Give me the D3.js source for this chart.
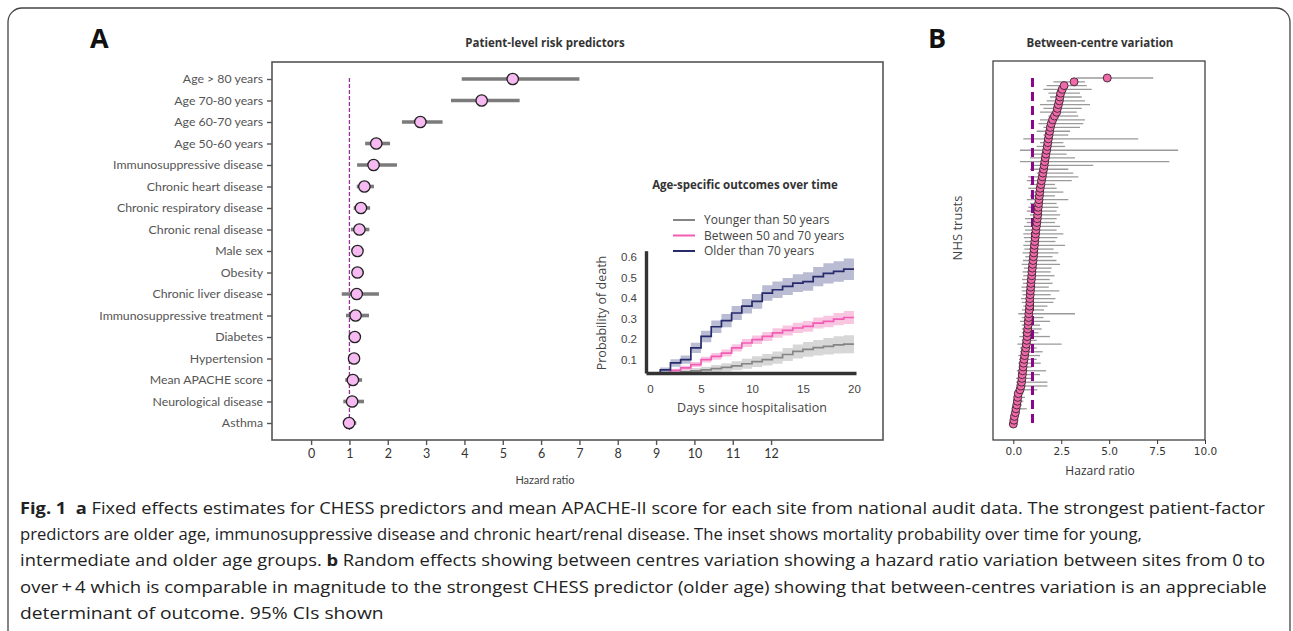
<!DOCTYPE html>
<html>
<head>
<meta charset="utf-8">
<script src="https://cdn.jsdelivr.net/npm/d3@7"></script>
<style>
body { margin: 0; background: #fff; }
svg { display: block; font-family: "Open Sans", sans-serif; }
.cap { white-space: pre; }
</style>
</head>
<body>
<svg id="fig" width="1293" height="631"></svg>
<script>

/*
    DATA
*/

// panel A - fixed effects (hazard ratio, 95% CI)
var predictors = ["Age > 80 years", "Age 70-80 years", "Age 60-70 years", "Age 50-60 years",
    "Immunosuppressive disease", "Chronic heart disease", "Chronic respiratory disease",
    "Chronic renal disease", "Male sex", "Obesity", "Chronic liver disease",
    "Immunosuppressive treatment", "Diabetes", "Hypertension", "Mean APACHE score",
    "Neurological disease", "Asthma"];
var predHR = [5.26, 4.45, 2.85, 1.70, 1.63, 1.39, 1.30, 1.26, 1.21, 1.21, 1.19, 1.16, 1.14, 1.12, 1.09, 1.07, 0.99];
var predLo = [3.93, 3.65, 2.37, 1.41, 1.20, 1.19, 1.11, 1.04, 1.12, 1.11, 0.80, 0.91, 1.05, 1.05, 0.89, 0.84, 0.87];
var predHi = [7.00, 5.44, 3.43, 2.06, 2.24, 1.64, 1.54, 1.52, 1.30, 1.38, 1.77, 1.51, 1.22, 1.18, 1.33, 1.38, 1.18];
var hrTicks = [0, 1, 2, 3, 4, 5, 6, 7, 8, 9, 10, 11, 12];

// inset - probability of death by day since hospitalisation
var days = [0, 1, 2, 3, 4, 5, 6, 7, 8, 9, 10, 11, 12, 13, 14, 15, 16, 17, 18, 19, 20];
var youngP  = [0, .020, .035, .040, .045, .050, .056, .062, .070, .080, .090, .100, .110, .125, .140, .150, .158, .165, .172, .175, .175];
var youngLo = [0, .012, .025, .028, .031, .034, .038, .042, .048, .056, .064, .072, .080, .093, .106, .114, .120, .125, .130, .131, .131];
var youngHi = [0, .028, .045, .052, .059, .066, .074, .082, .092, .104, .116, .128, .140, .157, .174, .186, .196, .205, .214, .219, .219];
var midP  = [0, .036, .048, .060, .076, .100, .116, .132, .157, .181, .197, .213, .230, .242, .254, .262, .278, .286, .297, .305, .305];
var midLo = [0, .030, .040, .050, .064, .086, .100, .115, .139, .161, .176, .191, .207, .218, .229, .236, .251, .258, .267, .273, .273];
var midHi = [0, .042, .056, .070, .088, .114, .132, .149, .175, .201, .218, .235, .253, .266, .279, .288, .305, .314, .327, .337, .337];
var oldP  = [0, .050, .084, .100, .157, .213, .260, .290, .327, .360, .383, .424, .440, .456, .472, .480, .504, .520, .529, .540, .540];
var oldLo = [0, .038, .066, .080, .132, .185, .230, .258, .293, .325, .347, .386, .400, .415, .429, .435, .457, .471, .479, .488, .488];
var oldHi = [0, .062, .102, .120, .182, .241, .290, .322, .361, .395, .419, .462, .480, .497, .515, .525, .551, .569, .579, .592, .592];
var ageGroups = ["Younger than 50 years", "Between 50 and 70 years", "Older than 70 years"];
var probTicks = [0.1, 0.2, 0.3, 0.4, 0.5, 0.6];
var dayTicks = [0, 5, 10, 15, 20];

// panel B - random effects per NHS trust (top to bottom)
var trustHR = [4.90, 3.17, 2.65, 2.55, 2.47, 2.43, 2.40, 2.35, 2.30, 2.26,
    2.15, 2.05, 1.98, 1.93, 1.90, 1.86, 1.83, 1.80, 1.77, 1.74,
    1.70, 1.67, 1.64, 1.61, 1.58, 1.54, 1.51, 1.47, 1.44, 1.40,
    1.38, 1.36, 1.34, 1.32, 1.30, 1.28, 1.27, 1.25, 1.23, 1.20,
    1.18, 1.16, 1.14, 1.12, 1.10, 1.08, 1.07, 1.05, 1.03, 1.01,
    0.99, 0.97, 0.96, 0.94, 0.92, 0.91, 0.89, 0.88, 0.86, 0.86,
    0.85, 0.83, 0.81, 0.80, 0.78, 0.77, 0.75, 0.73, 0.72, 0.70,
    0.68, 0.65, 0.62, 0.59, 0.56, 0.53, 0.51, 0.49, 0.47, 0.45,
    0.43, 0.40, 0.35, 0.26, 0.23, 0.21, 0.18, 0.14, 0.11, 0.06,
    0.03, 0.00];
var trustLo = [3.30, 2.09, 1.74, 1.57, 1.83, 1.91, 1.74, 1.39, 1.57, 1.39,
    1.83, 1.39, 1.31, 1.57, 1.22, 1.57, 0.52, 1.39, 1.22, 0.35,
    1.04, 0.87, 0.35, 1.04, 0.87, 1.22, 0.78, 0.70, 0.87, 0.78,
    1.04, 0.87, 0.70, 0.87, 0.78, 0.70, 0.87, 0.61, 0.70, 0.56,
    0.61, 0.52, 0.55, 0.60, 0.52, 0.58, 0.48, 0.62, 0.50, 0.44,
    0.55, 0.48, 0.52, 0.45, 0.50, 0.42, 0.44, 0.48, 0.40, 0.44,
    0.52, 0.45, 0.26, 0.44, 0.35, 0.44, 0.44, 0.44, 0.31, 0.44,
    0.21, 0.35, 0.35, 0.26, 0.31, 0.26, 0.31, 0.18, 0.26, 0.14,
    0.14, 0.18, 0.21, 0.18, 0.09, 0.09, 0.14, 0.09, 0.00, -0.03,
    -0.09, -0.10];
var trustHi = [7.30, 3.74, 3.83, 4.09, 3.48, 3.57, 3.74, 4.00, 3.57, 3.31,
    3.39, 3.74, 3.65, 3.48, 2.96, 2.87, 6.52, 2.61, 2.70, 8.60,
    2.78, 3.22, 8.14, 4.17, 2.87, 3.13, 3.39, 3.05, 2.17, 2.26,
    2.61, 2.17, 2.87, 2.26, 2.35, 2.26, 2.44, 2.26, 2.17, 2.44,
    2.26, 2.61, 2.30, 2.20, 2.70, 2.10, 2.35, 2.05, 2.25, 2.44,
    2.00, 1.95, 2.15, 1.90, 2.05, 1.85, 2.40, 1.95, 2.20, 2.09,
    1.78, 1.60, 3.22, 1.57, 1.91, 1.39, 1.48, 1.31, 1.91, 1.22,
    2.52, 1.22, 1.53, 1.39, 1.22, 1.43, 0.96, 1.71, 1.39, 1.01,
    1.78, 1.78, 1.25, 0.52, 0.61, 0.52, 0.44, 0.70, 0.31, 0.14,
    0.14, 0.09];
var trustTicks = [0, 2.5, 5, 7.5, 10];

// caption
var caption = [
    [["Fig. 1", true], ["  a", true], [" Fixed effects estimates for CHESS predictors and mean APACHE-II score for each site from national audit data. The strongest patient-factor", false]],
    [["predictors are older age, immunosuppressive disease and chronic heart/renal disease. The inset shows mortality probability over time for young,", false]],
    [["intermediate and older age groups. ", false], ["b", true], [" Random effects showing between centres variation showing a hazard ratio variation between sites from 0 to", false]],
    [["over\u2009+\u20094 which is comparable in magnitude to the strongest CHESS predictor (older age) showing that between-centres variation is an appreciable", false]],
    [["determinant of outcome. 95% CIs shown", false]]
];
var captionWidth = [1246, 1122, 1246, 1248, 364];


var svg = d3.select("#fig");

// outer frame
svg.append("rect")
    .attr("x", 8).attr("y", 8)
    .attr("width", 1282).attr("height", 660)
    .attr("rx", 14)
    .attr("fill", "none")
    .attr("stroke", "#444")
    .attr("stroke-width", 1.3);


/*
    PANEL A: FOREST PLOT
*/

var xA = d3.scaleLinear().domain([-1.02, 14.92]).range([272, 883]);
var yA = d3.scalePoint().domain(predictors).range([79, 423]);

svg.append("text").text("A")
    .attr("x", 90).attr("y", 48)
    .attr("font-size", 27).attr("font-weight", "bold").attr("fill", "#111");

svg.append("text").text("Patient-level risk predictors")
    .attr("x", 545).attr("y", 47)
    .attr("text-anchor", "middle")
    .attr("font-size", 11.5).attr("font-weight", "bold").attr("fill", "#333");

svg.append("rect")
    .attr("x", 272).attr("y", 62)
    .attr("width", 611).attr("height", 378)
    .attr("fill", "none").attr("stroke", "#555").attr("stroke-width", 1.6);

var yAxisA = svg.append("g")
    .attr("transform", "translate(272,0)")
    .call(d3.axisLeft(yA).tickSize(5).tickPadding(4));
yAxisA.select(".domain").remove();
yAxisA.selectAll("text").attr("font-family", "Lato").attr("font-size", 12.3).attr("fill", "#555");
yAxisA.selectAll("line").attr("stroke", "#555").attr("stroke-width", 1.4);

var xAxisA = svg.append("g")
    .attr("transform", "translate(0,440)")
    .call(d3.axisBottom(xA).tickValues(hrTicks).tickSize(5).tickPadding(4));
xAxisA.select(".domain").remove();
xAxisA.selectAll("text").attr("font-family", "Lato").attr("font-size", 12.5).attr("fill", "#333");
xAxisA.selectAll("line").attr("stroke", "#555").attr("stroke-width", 1.4);

svg.append("text").text("Hazard ratio")
    .attr("x", 545).attr("y", 484)
    .attr("text-anchor", "middle")
    .attr("font-family", "Lato").attr("font-size", 11).attr("fill", "#444");

// reference line at HR = 1
svg.append("line")
    .attr("x1", xA(1)).attr("x2", xA(1))
    .attr("y1", 78).attr("y2", 431)
    .attr("stroke", "#9a2f9a").attr("stroke-width", 1.3)
    .attr("stroke-dasharray", "4,2");

svg.selectAll(".ciA")
    .data(predictors)
    .enter().append("line")
    .attr("class", "ciA")
    .attr("x1", function(d, i) { return xA(predLo[i]); })
    .attr("x2", function(d, i) { return xA(predHi[i]); })
    .attr("y1", function(d) { return yA(d); })
    .attr("y2", function(d) { return yA(d); })
    .attr("stroke", "#7b7b7b")
    .attr("stroke-width", 3.6);

svg.selectAll(".ptA")
    .data(predictors)
    .enter().append("circle")
    .attr("class", "ptA")
    .attr("cx", function(d, i) { return xA(predHR[i]); })
    .attr("cy", function(d) { return yA(d); })
    .attr("r", 5.7)
    .attr("fill", "#f6b9f1")
    .attr("stroke", "#222")
    .attr("stroke-width", 1.3);


/*
    INSET: AGE-SPECIFIC OUTCOMES
*/

var xI = d3.scaleLinear().domain([-0.4, 20.2]).range([646, 856]);
var yI = d3.scaleLinear().domain([0.035, 0.63]).range([373, 250.7]).clamp(true);

var groups = [
    {name: ageGroups[0], p: youngP, lo: youngLo, hi: youngHi, line: "#858585", band: "#c9c9c9"},
    {name: ageGroups[1], p: midP, lo: midLo, hi: midHi, line: "#f25cb4", band: "#f7b3d8"},
    {name: ageGroups[2], p: oldP, lo: oldLo, hi: oldHi, line: "#272b6c", band: "#a3a5c6"}
];

svg.append("text").text("Age-specific outcomes over time")
    .attr("x", 745).attr("y", 189)
    .attr("text-anchor", "middle")
    .attr("font-size", 11.5).attr("font-weight", "bold").attr("fill", "#333");

var bandArea = d3.area()
    .curve(d3.curveStepAfter)
    .x(function(d, i) { return xI(days[i]); });

groups.forEach(function(g) {
    svg.append("path")
        .datum(g.p)
        .attr("d", bandArea
            .y0(function(d, i) { return yI(g.lo[i]); })
            .y1(function(d, i) { return yI(g.hi[i]); }))
        .attr("fill", g.band)
        .attr("fill-opacity", 0.75);
});

groups.forEach(function(g) {
    svg.append("path")
        .datum(g.p)
        .attr("d", d3.line()
            .curve(d3.curveStepAfter)
            .x(function(d, i) { return xI(days[i]); })
            .y(function(d) { return yI(d); }))
        .attr("fill", "none")
        .attr("stroke", g.line)
        .attr("stroke-width", 1.7);
});

var xAxisI = svg.append("g")
    .attr("transform", "translate(0,373)")
    .call(d3.axisBottom(xI).tickValues(dayTicks).tickSize(0).tickSizeOuter(0).tickPadding(12));
xAxisI.select(".domain").attr("stroke", "#333").attr("stroke-width", 3.4);
xAxisI.selectAll("text").attr("font-size", 11.5).attr("fill", "#444");

var yAxisI = svg.append("g")
    .attr("transform", "translate(646,0)")
    .call(d3.axisLeft(yI).tickValues(probTicks).tickFormat(d3.format(".1f"))
        .tickSize(0).tickSizeOuter(0).tickPadding(9));
yAxisI.select(".domain").attr("stroke", "#333").attr("stroke-width", 3.4);
yAxisI.selectAll("text").attr("font-size", 11.5).attr("fill", "#444");

svg.append("text").text("Days since hospitalisation")
    .attr("x", 752).attr("y", 412)
    .attr("text-anchor", "middle")
    .attr("font-size", 12.5).attr("fill", "#444");

svg.append("text").text("Probability of death")
    .attr("transform", "translate(606,313) rotate(-90)")
    .attr("text-anchor", "middle")
    .attr("font-size", 12.5).attr("fill", "#444");

var legend = svg.selectAll(".legI")
    .data(groups)
    .enter().append("g")
    .attr("class", "legI")
    .attr("transform", function(d, i) { return "translate(673," + (220 + i * 15.5) + ")"; });
legend.append("line")
    .attr("x1", 0).attr("x2", 22)
    .attr("stroke", function(d) { return d.line; })
    .attr("stroke-width", 2);
legend.append("text")
    .text(function(d) { return d.name; })
    .attr("x", 31).attr("dy", "0.35em")
    .attr("font-size", 12).attr("fill", "#444");


/*
    PANEL B: BETWEEN-CENTRE VARIATION
*/

var trustIdx = trustHR.map(function(d, i) { return i; });
var xB = d3.scaleLinear().domain([-1.06, 10]).range([993, 1205]);
var yB = d3.scalePoint().domain(trustIdx).range([78, 424]);

svg.append("text").text("B")
    .attr("x", 928).attr("y", 48)
    .attr("font-size", 27).attr("font-weight", "bold").attr("fill", "#111");

svg.append("text").text("Between-centre variation")
    .attr("x", 1100).attr("y", 47)
    .attr("text-anchor", "middle")
    .attr("font-size", 11.5).attr("font-weight", "bold").attr("fill", "#333");

svg.append("rect")
    .attr("x", 993).attr("y", 61)
    .attr("width", 212).attr("height", 379)
    .attr("fill", "none").attr("stroke", "#333").attr("stroke-width", 1.2);

var xAxisB = svg.append("g")
    .attr("transform", "translate(0,440)")
    .call(d3.axisBottom(xB).tickValues(trustTicks).tickFormat(d3.format(".1f")).tickSize(4).tickPadding(4));
xAxisB.select(".domain").remove();
xAxisB.selectAll("text").attr("font-family", "DejaVu Sans").attr("font-size", 10.5).attr("fill", "#333");
xAxisB.selectAll("line").attr("stroke", "#333");

svg.append("text").text("Hazard ratio")
    .attr("x", 1100).attr("y", 475)
    .attr("text-anchor", "middle")
    .attr("font-size", 12).attr("fill", "#333");

svg.append("text").text("NHS trusts")
    .attr("transform", "translate(962,228) rotate(-90)")
    .attr("text-anchor", "middle")
    .attr("font-size", 13).attr("fill", "#444");

svg.selectAll(".ciB")
    .data(trustIdx)
    .enter().append("line")
    .attr("class", "ciB")
    .attr("x1", function(d) { return xB(trustLo[d]); })
    .attr("x2", function(d) { return xB(trustHi[d]); })
    .attr("y1", function(d) { return yB(d); })
    .attr("y2", function(d) { return yB(d); })
    .attr("stroke", "#9a9a9a")
    .attr("stroke-width", 1.3);

svg.append("line")
    .attr("x1", xB(1)).attr("x2", xB(1))
    .attr("y1", 78).attr("y2", 424)
    .attr("stroke", "#8a068a").attr("stroke-width", 3)
    .attr("stroke-dasharray", "9,5");

// draw from bottom to top so upper points overlap lower ones
svg.selectAll(".ptB")
    .data(trustIdx.slice().reverse())
    .enter().append("circle")
    .attr("class", "ptB")
    .attr("cx", function(d) { return xB(trustHR[d]); })
    .attr("cy", function(d) { return yB(d); })
    .attr("r", 4)
    .attr("fill", "#f06aa9")
    .attr("stroke", "#3a2430")
    .attr("stroke-width", 0.9);


/*
    CAPTION
*/

caption.forEach(function(parts, li) {
    var t = svg.append("text")
        .attr("class", "cap")
        .attr("font-size", 16.5)
        .attr("fill", "#222");
    parts.forEach(function(p) {
        t.append("tspan")
            .text(p[0])
            .attr("font-weight", p[1] ? "bold" : "normal");
    });
    var w = t.node().getComputedTextLength();
    var sx = captionWidth[li] / w;
    t.attr("transform", "translate(20," + (514 + li * 26.2) + ") scale(" + sx + ",1)");
});

</script>
</body>
</html>
